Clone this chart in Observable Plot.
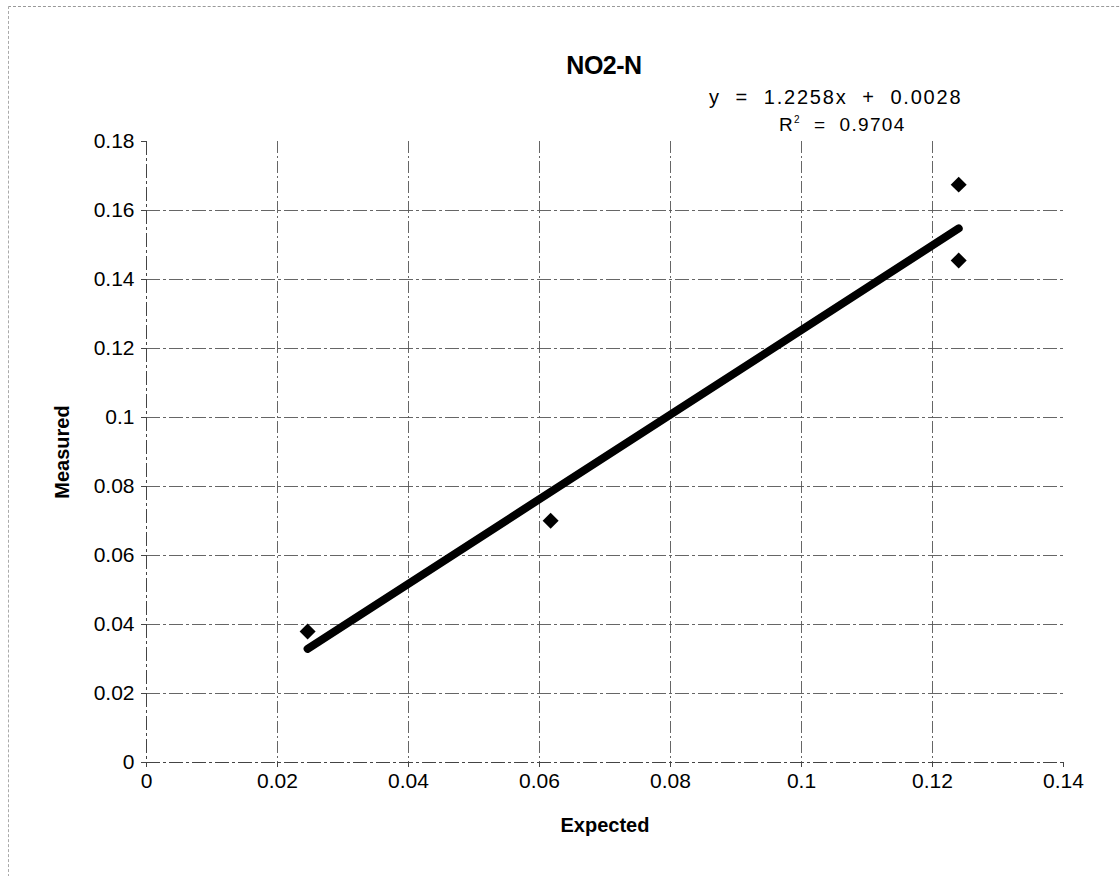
<!DOCTYPE html>
<html>
<head>
<meta charset="utf-8">
<script src="https://cdn.jsdelivr.net/npm/d3@7"></script>
<script src="https://cdn.jsdelivr.net/npm/@observablehq/plot@0.6"></script>
<style>
  html, body { margin: 0; padding: 0; background: #fff; }
  #wrap { position: relative; width: 1120px; height: 876px; overflow: hidden; font-family: "Liberation Sans", Arial, sans-serif; }
  #frame { position: absolute; left: 8px; top: 6px; width: 1200px; height: 900px; border-top: 1px dashed #999; border-left: 1px dashed #aaa; }
  #title { position: absolute; left: 0; width: 1208px; top: 51px; text-align: center; font-weight: bold; font-size: 25px; letter-spacing: -0.5px; color: #000; }
  #eq { position: absolute; left: 709px; top: 86px; white-space: pre; font-size: 20px; letter-spacing: 1.8px; color: #000; line-height: 22px; }
  #r2 { position: absolute; left: 779px; top: 109px; white-space: pre; font-size: 19px; letter-spacing: 1.3px; color: #000; line-height: 22px; }
  #r2 sup { font-size: 10px; vertical-align: 8px; }
  #chart { position: absolute; left: 0; top: 0; }
</style>
</head>
<body>
<div id="wrap">
  <div id="frame"></div>
  <div id="chart"></div>
  <div id="title">NO2-N</div>
  <div id="eq"></div>
  <div id="r2"></div>
</div>
<script>
// Data
const expected = [0.0246, 0.0617, 0.124, 0.124];
const measured = [0.038, 0.0701, 0.1675, 0.1455];
const slope = 1.2258;
const intercept = 0.0028;
const rSquared = 0.9704;
const xTicks = [0, 0.02, 0.04, 0.06, 0.08, 0.1, 0.12, 0.14];
const yTicks = [0, 0.02, 0.04, 0.06, 0.08, 0.1, 0.12, 0.14, 0.16, 0.18];
const xGrid = [0.02, 0.04, 0.06, 0.08, 0.1, 0.12];
const yGrid = [0.02, 0.04, 0.06, 0.08, 0.1, 0.12, 0.14, 0.16];
const titleText = "NO2-N";
const xLabel = "Expected";
const yLabel = "Measured";

const points = expected.map((x, i) => ({x, y: measured[i]}));
const [xmin, xmax] = d3.extent(expected);
const trend = [xmin, xmax].map(x => ({x, y: slope * x + intercept}));

document.getElementById("title").textContent = titleText;
document.getElementById("eq").textContent = `y  =  ${slope}x  +  ${intercept.toFixed(4)}`;
document.getElementById("r2").innerHTML = `R<sup>2</sup>  =  ${rSquared}`;

const plot = Plot.plot({
  width: 1120,
  height: 876,
  marginLeft: 146,
  marginRight: 57,
  marginTop: 141,
  marginBottom: 114,
  style: {fontFamily: "'Liberation Sans', Arial, sans-serif", background: "transparent", color: "#000"},
  x: {domain: [0, 0.14]},
  y: {domain: [0, 0.18]},
  marks: [
    Plot.gridX(xGrid, {stroke: "#555", strokeOpacity: 1, strokeWidth: 0.9, strokeDasharray: "12,3,2,3"}),
    Plot.gridY(yGrid, {stroke: "#555", strokeOpacity: 1, strokeWidth: 0.9, strokeDasharray: "14,3,3,3"}),
    Plot.axisX(xTicks, {tickSize: 5, tickPadding: 6, tickFormat: d => String(d), label: null, fontSize: 21, style: "letter-spacing:2.7px", stroke: "#444"}),
    Plot.axisY(yTicks, {tickSize: 5, tickPadding: 7, tickFormat: d => String(d), label: null, fontSize: 21, style: "letter-spacing:2.7px", stroke: "#444"}),
    Plot.ruleX([0], {stroke: "#444", strokeWidth: 1, strokeDasharray: "14,3,3,3"}),
    Plot.ruleY([0], {stroke: "#444", strokeWidth: 1, strokeDasharray: "14,3,3,3"}),
    Plot.line(trend, {x: "x", y: "y", stroke: "#000", strokeWidth: 8, strokeLinecap: "round"}),
    Plot.dot(points, {x: "x", y: "y", symbol: "diamond2", r: 7.2, fill: "#000", stroke: "none"}),
    Plot.text([xLabel], {frameAnchor: "bottom", textAnchor: "middle", dy: 69, fontWeight: "bold", fontSize: 20, style: "letter-spacing:2.2px", fill: "#000"}),
    Plot.text([yLabel], {frameAnchor: "left", textAnchor: "middle", dx: -84, rotate: -90, fontWeight: "bold", fontSize: 20, style: "letter-spacing:2.2px", fill: "#000"})
  ]
});
document.getElementById("chart").appendChild(plot);
</script>
</body>
</html>
